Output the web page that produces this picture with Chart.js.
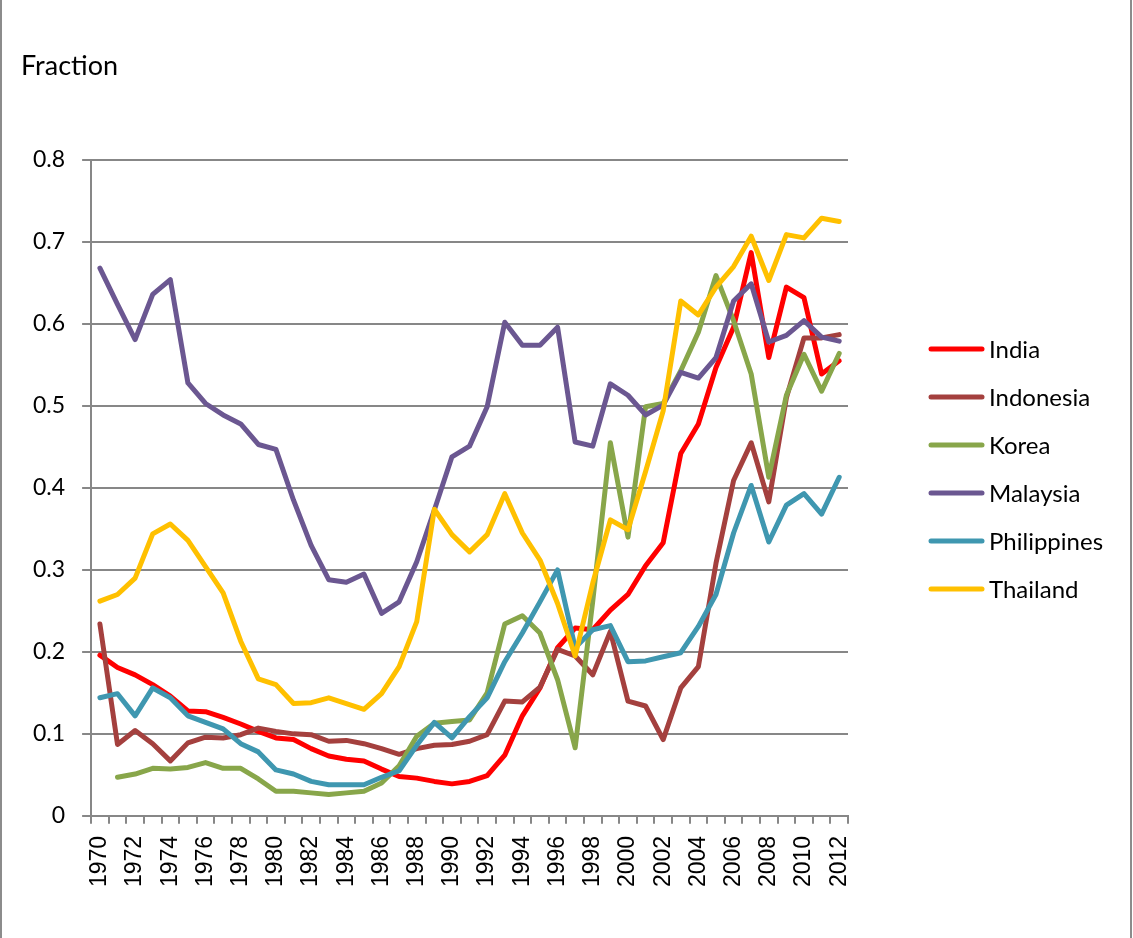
<!DOCTYPE html>
<html>
<head>
<meta charset="utf-8">
<script src="https://cdn.jsdelivr.net/npm/chart.js@4/dist/chart.umd.min.js"></script>
<style>
  body { margin: 0; background: #fff; }
  canvas { display: block; }
</style>
</head>
<body>
<canvas id="fraction-chart" width="1133" height="938"></canvas>
<script>
// Years on the category axis
const years = [];
for (let y = 1970; y <= 2012; y++) years.push(String(y));

// Series values
const india = [0.196, 0.181, 0.172, 0.160, 0.146, 0.128, 0.127, 0.120, 0.112, 0.103,
  0.095, 0.093, 0.082, 0.073, 0.069, 0.067, 0.057, 0.048, 0.046, 0.042,
  0.039, 0.042, 0.049, 0.074, 0.122, 0.156, 0.205, 0.229, 0.227, 0.251,
  0.270, 0.305, 0.333, 0.442, 0.478, 0.547, 0.596, 0.687, 0.559, 0.645,
  0.632, 0.539, 0.555];
const indonesia = [0.234, 0.087, 0.104, 0.088, 0.067, 0.089, 0.096, 0.095, 0.099, 0.107,
  0.103, 0.100, 0.099, 0.091, 0.092, 0.088, 0.082, 0.075, 0.082, 0.086,
  0.087, 0.091, 0.099, 0.140, 0.139, 0.157, 0.203, 0.195, 0.172, 0.225,
  0.140, 0.134, 0.093, 0.156, 0.182, 0.308, 0.409, 0.455, 0.383, 0.510,
  0.583, 0.583, 0.587];
const korea = [null, 0.047, 0.051, 0.058, 0.057, 0.059, 0.065, 0.058, 0.058, 0.045,
  0.030, 0.030, 0.028, 0.026, 0.028, 0.030, 0.040, 0.061, 0.097, 0.113,
  0.115, 0.117, 0.150, 0.234, 0.244, 0.223, 0.166, 0.083, 0.262, 0.455,
  0.340, 0.499, 0.503, 0.543, 0.590, 0.659, 0.604, 0.539, 0.413, 0.513,
  0.563, 0.518, 0.564];
const malaysia = [0.668, 0.624, 0.581, 0.636, 0.654, 0.528, 0.503, 0.489, 0.478, 0.453,
  0.447, 0.385, 0.330, 0.288, 0.285, 0.295, 0.247, 0.261, 0.310, 0.373,
  0.438, 0.451, 0.499, 0.602, 0.574, 0.574, 0.596, 0.456, 0.451, 0.527,
  0.513, 0.489, 0.501, 0.541, 0.534, 0.559, 0.628, 0.649, 0.578, 0.586,
  0.604, 0.584, 0.579];
const philippines = [0.144, 0.149, 0.122, 0.156, 0.144, 0.122, 0.114, 0.106, 0.088, 0.078,
  0.056, 0.051, 0.042, 0.038, 0.038, 0.038, 0.047, 0.055, 0.086, 0.114,
  0.095, 0.121, 0.144, 0.188, 0.223, 0.261, 0.300, 0.205, 0.227, 0.232,
  0.188, 0.189, 0.194, 0.199, 0.231, 0.270, 0.345, 0.403, 0.334, 0.379,
  0.393, 0.368, 0.413];
const thailand = [0.262, 0.270, 0.290, 0.344, 0.356, 0.336, 0.304, 0.272, 0.213, 0.167,
  0.160, 0.137, 0.138, 0.144, 0.137, 0.130, 0.149, 0.182, 0.237, 0.374,
  0.343, 0.322, 0.343, 0.393, 0.345, 0.312, 0.259, 0.195, 0.284, 0.361,
  0.349, 0.420, 0.494, 0.628, 0.611, 0.645, 0.670, 0.707, 0.653, 0.709,
  0.705, 0.729, 0.725];

const seriesNames = ['India', 'Indonesia', 'Korea', 'Malaysia', 'Philippines', 'Thailand'];
const seriesData = [india, indonesia, korea, malaysia, philippines, thailand];
const seriesColors = ['#ff0000', '#a4403e', '#88a64a', '#6b5791', '#3f97b0', '#ffc000'];

const gridGray = '#878787';
const textFont = 'Lato, "Open Sans", sans-serif';

// Legend, y-axis caption and frame drawn by hand so they sit like the original
const decorations = {
  id: 'decorations',
  afterDraw(chart) {
    const ctx = chart.ctx;
    ctx.save();
    // frame
    ctx.strokeStyle = '#8c8c8c';
    ctx.lineWidth = 2;
    ctx.beginPath();
    ctx.moveTo(1, 0); ctx.lineTo(1, chart.height);
    ctx.moveTo(chart.width - 2, 0); ctx.lineTo(chart.width - 2, chart.height);
    ctx.stroke();
    // caption
    ctx.fillStyle = '#000';
    ctx.font = '27px ' + textFont;
    ctx.textBaseline = 'middle';
    ctx.fillText('Fraction', 21, 66);
    // legend
    ctx.font = '24px ' + textFont;
    ctx.lineCap = 'round';
    chart.data.datasets.forEach((ds, i) => {
      const y = 349 + 48 * i;
      ctx.strokeStyle = ds.borderColor;
      ctx.lineWidth = 5;
      ctx.beginPath();
      ctx.moveTo(931, y);
      ctx.lineTo(982, y);
      ctx.stroke();
      ctx.fillText(ds.label, 989, y + 1);
    });
    ctx.restore();
  }
};

new Chart('fraction-chart', {
  type: 'line',
  data: {
    labels: years,
    datasets: seriesNames.map((name, i) => ({
      label: name,
      data: seriesData[i],
      borderColor: seriesColors[i],
      backgroundColor: seriesColors[i],
      borderWidth: 5,
      borderJoinStyle: 'round',
      borderCapStyle: 'round',
      pointRadius: 0,
      tension: 0,
      order: seriesNames.length - i
    }))
  },
  options: {
    responsive: false,
    animation: false,
    devicePixelRatio: 1,
    layout: { padding: { left: 16, right: 285, top: 160, bottom: 39 } },
    plugins: {
      legend: { display: false },
      tooltip: { enabled: false }
    },
    scales: {
      x: {
        offset: true,
        border: { color: gridGray, width: 2 },
        grid: { offset: true, drawOnChartArea: false, color: gridGray, lineWidth: 2, tickLength: 8 },
        ticks: {
          autoSkip: false,
          maxRotation: 90,
          minRotation: 90,
          padding: 12,
          color: '#000',
          font: { family: '"Liberation Sans", Arial, sans-serif', size: 23 },
          callback: (v, i) => (i % 2 === 0 ? years[i] : '')
        }
      },
      y: {
        min: 0,
        max: 0.8,
        border: { color: gridGray, width: 2 },
        grid: { color: gridGray, lineWidth: 2, tickLength: 9 },
        ticks: {
          stepSize: 0.1,
          padding: 17,
          color: '#000',
          font: { family: textFont, size: 23 },
          callback: v => (Math.round(v * 10) / 10).toString()
        }
      }
    }
  },
  plugins: [decorations]
});
</script>
</body>
</html>
